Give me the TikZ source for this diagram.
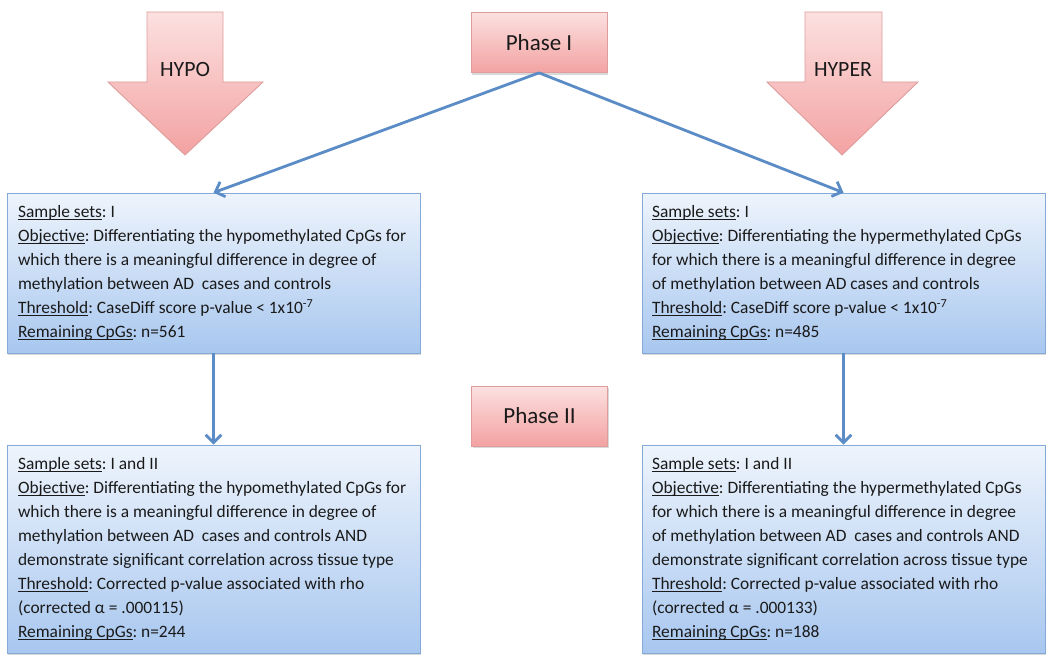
\documentclass[tikz,border=0pt]{standalone}
\usepackage{fontspec}
\setmainfont{Carlito}
\usetikzlibrary{arrows.meta,shadows}

\definecolor{pinkTop}{HTML}{FCE0E0}
\definecolor{pinkBot}{HTML}{F3A2A2}
\definecolor{pinkLine}{HTML}{DE9C9C}
\definecolor{blueTop}{HTML}{EEF4FC}
\definecolor{blueBot}{HTML}{A8C7EF}
\definecolor{blueLine}{HTML}{86AAD7}
\definecolor{linkBlue}{HTML}{5B8CC6}
\definecolor{inkGrey}{HTML}{1A1A1A}

% underline sitting just under the baseline
\newcommand{\fieldname}[1]{\setbox0\hbox{#1}\rlap{\rule[-1.3pt]{\wd0}{0.55pt}}#1}

\tikzset{
  phasebox/.style={draw=pinkLine, top color=pinkTop, bottom color=pinkBot,
    minimum width=2.72cm, minimum height=1.2cm, text=inkGrey,
    font=\fontsize{13.1}{15}\selectfont,
    drop shadow={opacity=0.3, shadow xshift=0.8pt, shadow yshift=-1.2pt}},
  setbox/.style={draw=blueLine, top color=blueTop, bottom color=blueBot,
    minimum height=3.2cm, drop shadow={opacity=0.3, shadow xshift=0.8pt, shadow yshift=-1.2pt}},
  settext/.style={anchor=west, align=left, inner sep=0pt, text=inkGrey,
    font=\fontsize{9.9}{13.7}\selectfont\frenchspacing},
  bigarrow/.style={draw=pinkLine, top color=pinkTop, bottom color=pinkBot, line width=0.5pt},
  arrowlabel/.style={text=inkGrey, font=\fontsize{12.4}{14}\selectfont},
  link/.style={draw=linkBlue, line width=1.6pt, -{Straight Barb[length=4.5pt,width=9pt]}}
}

\begin{document}
\begin{tikzpicture}[x=0.02cm, y=-0.02cm]
    \useasboundingbox (0,0) rectangle (1050,662);
    % the two big arrows
    \draw[bigarrow] (147,12) -- (223,12) -- (223,82) -- (263,82) -- (185,155) -- (108,82) -- (147,82) -- cycle;
    \draw[bigarrow] (805,12) -- (882,12) -- (882,82) -- (918,82) -- (842,155) -- (767,82) -- (805,82) -- cycle;
    \node[arrowlabel] (hypo) at (185,70) {HYPO};
    \node[arrowlabel] (hyper) at (843,70) {HYPER};
    % phases
    \node[phasebox] (phaseI) at (539,42.5) {Phase I};
    \node[phasebox] (phaseII) at (539.5,416) {Phase II};
    % boxes
    \node[setbox, minimum width=8.26cm] (hypoI) at (213.5,273) {};
    \node[setbox, minimum width=8.06cm] (hyperI) at (843.5,273) {};
    \node[setbox, minimum width=8.26cm, minimum height=4.16cm] (hypoII) at (213.5,549) {};
    \node[setbox, minimum width=8.06cm, minimum height=4.16cm] (hyperII) at (843.5,549) {};
    \node[settext] (hypoItext) at ([xshift=0.22cm]hypoI.west) {%
      \fieldname{Sample sets}: I\\
      \fieldname{Objective}: Differentiating the hypomethylated CpGs for\\
      which there is a meaningful difference in degree of\\
      methylation between AD\ \ cases and controls\\
      \fieldname{Threshold}: CaseDiff score p-value < 1x10\textsuperscript{-7}\\
      \fieldname{Remaining CpGs}: n=561};
    \node[settext] (hyperItext) at ([xshift=0.2cm]hyperI.west) {%
      \fieldname{Sample sets}: I\\
      \fieldname{Objective}: Differentiating the hypermethylated CpGs\\
      for which there is a meaningful difference in degree\\
      of methylation between AD cases and controls\\
      \fieldname{Threshold}: CaseDiff score p-value < 1x10\textsuperscript{-7}\\
      \fieldname{Remaining CpGs}: n=485};
    \node[settext] (hypoIItext) at ([xshift=0.22cm]hypoII.west) {%
      \fieldname{Sample sets}: I and II\\
      \fieldname{Objective}: Differentiating the hypomethylated CpGs for\\
      which there is a meaningful difference in degree of\\
      methylation between AD\ \ cases and controls AND\\
      demonstrate significant correlation across tissue type\\
      \fieldname{Threshold}: Corrected p-value associated with rho\\
      (corrected α = .000115)\\
      \fieldname{Remaining CpGs}: n=244};
    \node[settext] (hyperIItext) at ([xshift=0.2cm]hyperII.west) {%
      \fieldname{Sample sets}: I and II\\
      \fieldname{Objective}: Differentiating the hypermethylated CpGs\\
      for which there is a meaningful difference in degree\\
      of methylation between AD\ \ cases and controls AND\\
      demonstrate significant correlation across tissue type\\
      \fieldname{Threshold}: Corrected p-value associated with rho\\
      (corrected α = .000133)\\
      \fieldname{Remaining CpGs}: n=188};
    % connectors
    \draw[link] (phaseI.south) -- (hypoI.north);
    \draw[link] (phaseI.south) -- (hyperI.north);
    \draw[link] (hypoI.south) -- (hypoII.north);
    \draw[link] (hyperI.south) -- (hyperII.north);
\end{tikzpicture}
\end{document}
